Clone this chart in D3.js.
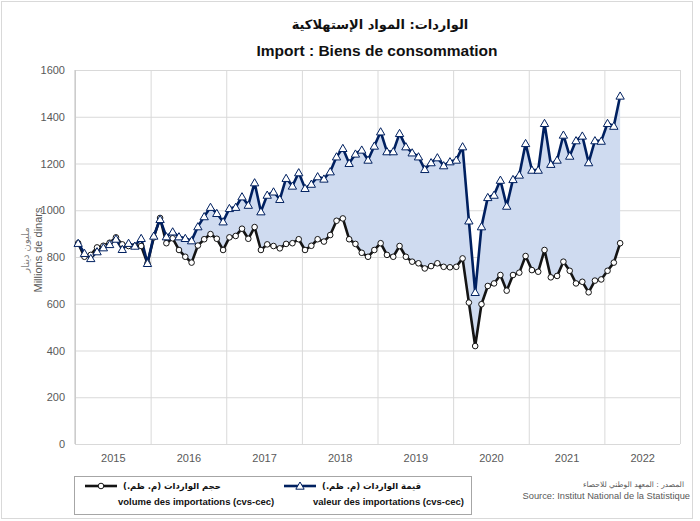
<!DOCTYPE html>
<html>
<head>
<meta charset="utf-8">
<script src="https://cdn.jsdelivr.net/npm/d3@7"></script>
<style>
  body { margin: 0; background: #fff; }
  text { font-family: "Liberation Sans", Arial, sans-serif; }
  .ar { font-family: "DejaVu Sans", sans-serif; }
</style>
</head>
<body>
<div class="chart"></div>
<script>
// monthly data, Jan 2015 .. Mar 2022 (millions de dinars, cvs-cec)
const yearLabels = ["2015", "2016", "2017", "2018", "2019", "2020", "2021", "2022"];
const yTicks = [0, 200, 400, 600, 800, 1000, 1200, 1400, 1600];

const valeur = [
  859, 816, 794, 823, 840, 854, 877, 833, 859, 847, 880, 773,        // 2015
  890, 961, 887, 908, 887, 880, 870, 930, 973, 1013, 987, 951,       // 2016
  1008, 1013, 1058, 1022, 1118, 994, 1065, 1079, 1047, 1137, 1104, 1161, // 2017
  1094, 1112, 1144, 1134, 1165, 1229, 1265, 1201, 1241, 1258, 1215, 1275, // 2018
  1336, 1251, 1251, 1329, 1272, 1246, 1229, 1175, 1204, 1225, 1191, 1208, // 2019
  1215, 1272, 955, 649, 930, 1055, 1065, 1129, 1018, 1132, 1151, 1286,   // 2020
  1172, 1172, 1372, 1197, 1215, 1322, 1232, 1298, 1318, 1204, 1298, 1296, // 2021
  1372, 1360, 1489                                                    // 2022
];

const volume = [
  859, 801, 809, 841, 848, 861, 884, 854, 847, 847, 847, 773,        // 2015
  884, 967, 859, 880, 830, 801, 776, 849, 876, 898, 878, 830,        // 2016
  884, 890, 921, 878, 928, 830, 854, 847, 837, 856, 859, 876,        // 2017
  830, 848, 876, 866, 894, 955, 965, 876, 856, 818, 801, 830,        // 2018
  859, 809, 801, 847, 801, 780, 773, 751, 761, 773, 758, 756,        // 2019
  758, 794, 605, 419, 598, 676, 687, 723, 656, 723, 733, 804,        // 2020
  744, 737, 830, 713, 719, 780, 741, 687, 694, 649, 699, 704,        // 2021
  741, 776, 859                                                      // 2022
];

const navy = "#002060", dark = "#141414", fillBlue = "#cfdbf0", grid = "#d9d9d9";

var W = 700, H = 521;
var plot = {left: 75, right: 680, top: 70, bottom: 444};

var svg = d3.select(".chart").append("svg")
    .attr("width", W)
    .attr("height", H);

// chart frame
svg.append("rect")
    .attr("x", 1.5).attr("y", 1.5)
    .attr("width", 691).attr("height", 517)
    .attr("fill", "none")
    .attr("stroke", grid);

const xScale = d3.scaleLinear()
    .domain([0, yearLabels.length * 12])
    .range([plot.left, plot.right]);

const yScale = d3.scaleLinear()
    .domain([0, 1600])
    .range([plot.bottom, plot.top]);

// horizontal grid + y labels
const yAxis = d3.axisLeft(yScale)
    .tickValues(yTicks)
    .tickFormat(d3.format("d"))
    .tickSize(-(plot.right - plot.left))
    .tickPadding(10);

svg.append("g")
    .attr("class", "axis y-axis")
    .attr("transform", `translate(${plot.left},0)`)
    .call(yAxis)
    .call(g => g.select(".domain").remove())
    .call(g => g.selectAll("line").attr("stroke", grid))
    .call(g => g.selectAll("text")
        .attr("fill", "#595959")
        .attr("font-size", "11px")
        .style("font-family", "Liberation Sans, Arial, sans-serif"));

// vertical grid at year boundaries
const xGrid = d3.axisBottom(xScale)
    .tickValues(d3.range(0, yearLabels.length * 12 + 1, 12))
    .tickSize(-(plot.bottom - plot.top))
    .tickFormat("");

svg.append("g")
    .attr("class", "axis x-grid")
    .attr("transform", `translate(0,${plot.bottom})`)
    .call(xGrid)
    .call(g => g.select(".domain").remove())
    .call(g => g.selectAll("line").attr("stroke", grid));

// year labels centred in each year
const xAxis = d3.axisBottom(xScale)
    .tickValues(yearLabels.map((d, i) => i * 12 + 6))
    .tickFormat((d, i) => yearLabels[i])
    .tickSize(0)
    .tickPadding(10);

svg.append("g")
    .attr("class", "axis x-axis")
    .attr("transform", `translate(0,${plot.bottom})`)
    .call(xAxis)
    .call(g => g.select(".domain").remove())
    .call(g => g.selectAll("text")
        .attr("fill", "#595959")
        .attr("font-size", "11px")
        .style("font-family", "Liberation Sans, Arial, sans-serif"));

// plot left edge
svg.append("line")
    .attr("x1", plot.left).attr("x2", plot.left)
    .attr("y1", plot.top).attr("y2", plot.bottom)
    .attr("stroke", "#bfbfbf");

const xi = i => xScale(i + 0.5);

// shaded gap between the two series
var area = d3.area()
    .x((d, i) => xi(i))
    .y0((d, i) => yScale(volume[i]))
    .y1(d => yScale(d));

svg.append("path")
    .datum(valeur)
    .attr("fill", fillBlue)
    .attr("d", area);

var line = d3.line()
    .x((d, i) => xi(i))
    .y(d => yScale(d));

svg.append("path")
    .datum(volume)
    .attr("fill", "none")
    .attr("stroke", dark)
    .attr("stroke-width", 2.6)
    .attr("stroke-linejoin", "round")
    .attr("d", line);

svg.append("path")
    .datum(valeur)
    .attr("fill", "none")
    .attr("stroke", navy)
    .attr("stroke-width", 2.6)
    .attr("stroke-linejoin", "round")
    .attr("d", line);

const tri = d3.symbol().type(d3.symbolTriangle).size(30);

svg.selectAll(".dot-vol")
    .data(volume)
    .enter()
    .append("circle")
    .attr("class", "dot-vol")
    .attr("cx", (d, i) => xi(i))
    .attr("cy", d => yScale(d))
    .attr("r", 2.8)
    .attr("fill", "#fff")
    .attr("stroke", dark)
    .attr("stroke-width", 1);

svg.selectAll(".dot-val")
    .data(valeur)
    .enter()
    .append("path")
    .attr("class", "dot-val")
    .attr("d", tri)
    .attr("transform", (d, i) => `translate(${xi(i)},${yScale(d) + 0.8})`)
    .attr("fill", "#fff")
    .attr("stroke", navy)
    .attr("stroke-width", 1);

// titles
svg.append("text")
    .attr("class", "ar")
    .attr("x", 380).attr("y", 29)
    .attr("text-anchor", "middle")
    .attr("font-size", "13px")
    .attr("font-weight", "bold")
    .attr("fill", "#111")
    .text("الواردات: المواد الإستهلاكية");

svg.append("text")
    .attr("x", 377).attr("y", 56)
    .attr("text-anchor", "middle")
    .attr("font-size", "15.5px")
    .attr("font-weight", "bold")
    .attr("fill", "#111")
    .text("Import : Biens de consommation");

// y axis title
var yt = svg.append("g").attr("transform", "translate(33,250) rotate(-90)");
yt.append("text")
    .attr("class", "ar")
    .attr("text-anchor", "middle")
    .attr("y", -4)
    .attr("font-size", "10px")
    .attr("fill", "#7f7f7f")
    .text("مليون دينار");
yt.append("text")
    .attr("text-anchor", "middle")
    .attr("y", 9)
    .attr("font-size", "11px")
    .attr("fill", "#595959")
    .text("Millions de dinars");

// legend
var lg = svg.append("g");
lg.append("rect")
    .attr("x", 74.5).attr("y", 476.5)
    .attr("width", 397).attr("height", 38)
    .attr("fill", "#fff")
    .attr("stroke", "#a6a6a6");

function legendItem(x, color, marker, ar, fr, frX) {
    lg.append("line")
        .attr("x1", x).attr("x2", x + 32)
        .attr("y1", 486).attr("y2", 486)
        .attr("stroke", color).attr("stroke-width", 2.6);
    if (marker == "circle") {
        lg.append("circle")
            .attr("cx", x + 16).attr("cy", 486).attr("r", 2.8)
            .attr("fill", "#fff").attr("stroke", color);
    } else {
        lg.append("path")
            .attr("d", tri)
            .attr("transform", `translate(${x + 16},486.8)`)
            .attr("fill", "#fff").attr("stroke", color);
    }
    lg.append("text")
        .attr("class", "ar")
        .attr("x", x + 38).attr("y", 489)
        .attr("font-size", "8.5px")
        .attr("font-weight", "bold")
        .attr("fill", "#111")
        .text(ar);
    lg.append("text")
        .attr("x", frX).attr("y", 505)
        .attr("font-size", "9.5px")
        .attr("font-weight", "bold")
        .attr("fill", "#111")
        .text(fr);
}

legendItem(85, dark, "circle", "حجم الواردات (م. ظم.)", "volume des importations (cvs-cec)", 118);
legendItem(284, navy, "triangle", "قيمة  الواردات (م. ظم.)", "valeur des importations (cvs-cec)", 313);

// source
svg.append("text")
    .attr("class", "ar")
    .attr("x", 684).attr("y", 487)
    .attr("text-anchor", "end")
    .attr("font-size", "7.5px")
    .attr("fill", "#595959")
    .text("المصدر : المعهد الوطني للاحصاء");

svg.append("text")
    .attr("x", 690).attr("y", 499)
    .attr("text-anchor", "end")
    .attr("font-size", "9.3px")
    .attr("fill", "#595959")
    .text("Source: Institut National de la Statistique");
</script>
</body>
</html>
